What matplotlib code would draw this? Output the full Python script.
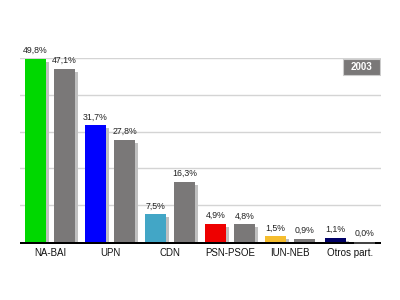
import matplotlib
matplotlib.use("Agg")
import matplotlib.pyplot as plt
from matplotlib.patches import Rectangle

categories = ["NA-BAI", "UPN", "CDN", "PSN-PSOE", "IUN-NEB", "Otros part."]
values_2003 = [49.8, 31.7, 7.5, 4.9, 1.5, 1.1]
values_prev = [47.1, 27.8, 16.3, 4.8, 0.9, 0.0]
labels_2003 = ["49,8%", "31,7%", "7,5%", "4,9%", "1,5%", "1,1%"]
labels_prev = ["47,1%", "27,8%", "16,3%", "4,8%", "0,9%", "0,0%"]
colors_2003 = ["#00d800", "#0000ff", "#42a6c6", "#ee0000", "#f5bd2e", "#000066"]
year_label = "2003"

plt.rcParams['font.family'] = ['Liberation Sans', 'DejaVu Sans']

fig = plt.figure(figsize=(4, 3), dpi=100)
ax = fig.add_axes([0.05, (300 - 242) / 300, 361 / 400, 184 / 300])
ax.set_xlim(0, 361 / 60)
ax.set_ylim(0, 50)

px_x = 1 / 60.0
px_y = 50 / 184.0
w = 21 * px_x
gray = "#7a7878"
shadow = "#c0c0c0"

for yv in [10, 20, 30, 40, 50]:
    ax.axhline(yv, color="#d4d4d4", lw=1, zorder=0)

# baseline (black strip below zero)
ax.add_patch(Rectangle((0, -2.2 * px_y), 361 * px_x, 2.2 * px_y, facecolor="black",
                       edgecolor="none", zorder=5, clip_on=False))

for i, (v1, v2) in enumerate(zip(values_2003, values_prev)):
    c1 = i + 15.5 * px_x
    c2 = i + 44.5 * px_x
    for c, v, col in [(c1, v1, colors_2003[i]), (c2, v2, gray)]:
        if v > 0:
            sh = max(v - 3 * px_y, 0)
            ax.bar(c + 3 * px_x, sh, width=w, color=shadow, zorder=1, align="center")
            ax.bar(c, v, width=w, color=col, zorder=2, align="center")
        else:
            ax.add_patch(Rectangle((c - w / 2, -2.2 * px_y), w, 2.2 * px_y, facecolor="#444444",
                                   edgecolor="none", zorder=6, clip_on=False))
    ax.text(c1, v1 + 8.5 * px_y, labels_2003[i], ha="center", va="center", fontsize=6.3, color="#222222")
    ax.text(c2, v2 + 8.5 * px_y, labels_prev[i], ha="center", va="center", fontsize=6.3, color="#222222")
    ax.text(i + 0.5, -11 * px_y, categories[i], ha="center", va="center", fontsize=7, color="#111111", clip_on=False)

# badge
ax.add_patch(Rectangle((323 * px_x, 50 - 17 * px_y), 37 * px_x, 16 * px_y, facecolor=gray,
                       edgecolor="#cccccc", lw=0.8, zorder=6))
ax.text(341.5 * px_x, 50 - 9 * px_y, year_label, ha="center", va="center", fontsize=7,
        fontweight="bold", color="white", zorder=7)

for s in ax.spines.values():
    s.set_visible(False)
ax.set_xticks([])
ax.set_yticks([])

fig.savefig("out.png", dpi=100)
